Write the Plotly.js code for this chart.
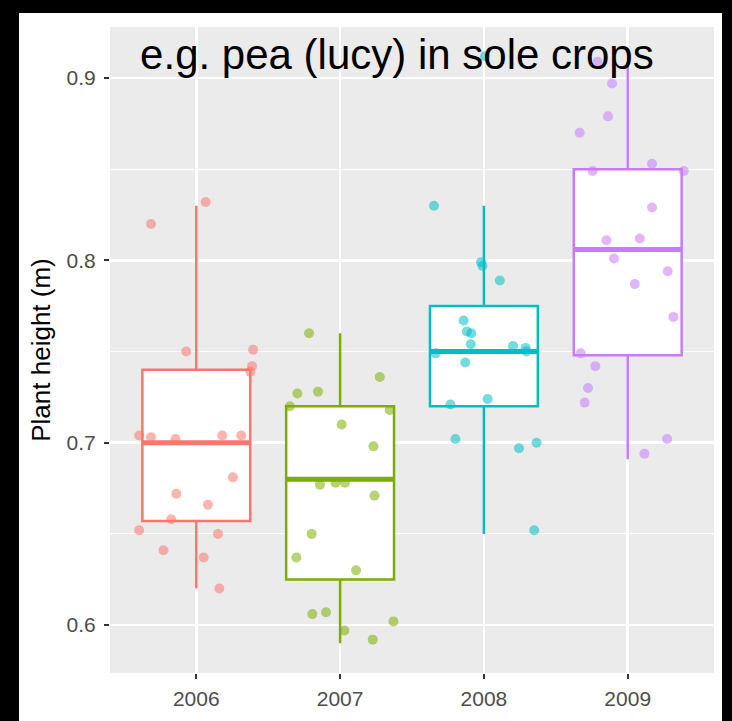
<!DOCTYPE html>
<html>
<head>
<meta charset="utf-8">
<script src="https://cdn.plot.ly/plotly-3.0.1.min.js"></script>
<style>
  html, body { margin: 0; padding: 0; background: #000; width: 732px; height: 721px; overflow: hidden; }
  #chart { position: absolute; left: 19px; top: 13px; width: 703px; height: 708px; background: #fff; }
</style>
</head>
<body>
<div id="chart"></div>
<script>
// Seasons on the x axis
const years = ['2006', '2007', '2008', '2009'];

// Plant heights (m) of individual plots per season
const height2006 = [0.832, 0.820, 0.750, 0.751, 0.742, 0.739, 0.704, 0.703, 0.702, 0.704, 0.704,
                    0.681, 0.672, 0.666, 0.658, 0.652, 0.650, 0.641, 0.637, 0.620];
const height2007 = [0.760, 0.736, 0.727, 0.728, 0.720, 0.718, 0.710, 0.698, 0.677, 0.678, 0.678,
                    0.671, 0.650, 0.637, 0.630, 0.606, 0.607, 0.602, 0.597, 0.592];
const height2008 = [0.912, 0.830, 0.799, 0.797, 0.789, 0.767, 0.761, 0.760, 0.754, 0.749, 0.753,
                    0.752, 0.750, 0.744, 0.724, 0.721, 0.702, 0.697, 0.700, 0.652];
const height2009 = [0.909, 0.897, 0.879, 0.870, 0.849, 0.853, 0.849, 0.829, 0.811, 0.812, 0.801,
                    0.794, 0.787, 0.769, 0.749, 0.742, 0.730, 0.722, 0.702, 0.694];

// Horizontal jitter of each plot's point (fraction of a category)
const jitter2006 = [0.065, -0.315, -0.070, 0.395, 0.388, 0.376, -0.397, -0.315, -0.144, 0.181, 0.313,
                    0.255, -0.139, 0.081, -0.174, -0.397, 0.151, -0.228, 0.051, 0.160];
const jitter2007 = [-0.216, 0.276, -0.297, -0.154, -0.349, 0.345, 0.011, 0.232, -0.140, -0.031, 0.034,
                    0.239, -0.198, -0.304, 0.111, -0.193, -0.098, 0.371, 0.030, 0.227];
const jitter2008 = [0.008, -0.347, -0.020, -0.010, 0.111, -0.141, -0.118, -0.088, -0.091, -0.336, 0.203,
                    0.290, 0.295, -0.130, 0.026, -0.233, -0.198, 0.244, 0.366, 0.350];
const jitter2009 = [-0.209, -0.109, -0.137, -0.334, -0.244, 0.169, 0.390, 0.169, -0.148, 0.084, -0.095,
                    0.278, 0.049, 0.318, -0.327, -0.225, -0.276, -0.299, 0.274, 0.116];

// Box summaries per season
const q1Vals     = [0.657, 0.625, 0.720, 0.748];
const medianVals = [0.700, 0.680, 0.750, 0.806];
const q3Vals     = [0.740, 0.720, 0.775, 0.850];
const lowVals    = [0.620, 0.590, 0.650, 0.691];
const highVals   = [0.830, 0.760, 0.830, 0.909];

const heights = [height2006, height2007, height2008, height2009];
const jitters = [jitter2006, jitter2007, jitter2008, jitter2009];
const colors = ['#F8766D', '#7CAE00', '#00BFC4', '#C77CFF'];
const BOX_W = 0.75;
const FONT = 'Liberation Sans, Arial, Helvetica, sans-serif';

const traces = [];

years.forEach((yr, i) => {
  traces.push({
    type: 'box',
    x: [i],
    q1: [q1Vals[i]], median: [medianVals[i]], q3: [q3Vals[i]],
    lowerfence: [lowVals[i]], upperfence: [highVals[i]],
    width: BOX_W,
    fillcolor: '#FFFFFF',
    line: { color: colors[i], width: 2.5 },
    whiskerwidth: 0,
    boxpoints: false,
    hoverinfo: 'skip',
    showlegend: false
  });
});

// Thicker median bars, as in a ggplot boxplot
years.forEach((yr, i) => {
  traces.push({
    type: 'scatter', mode: 'lines',
    x: [i - BOX_W / 2, i + BOX_W / 2],
    y: [medianVals[i], medianVals[i]],
    line: { color: colors[i], width: 5 },
    hoverinfo: 'skip', showlegend: false
  });
});

// Jittered plot observations
years.forEach((yr, i) => {
  traces.push({
    type: 'scatter', mode: 'markers',
    x: jitters[i].map(j => i + j),
    y: heights[i],
    marker: { color: colors[i], size: 10, opacity: 0.55, line: { width: 0 } },
    name: yr, showlegend: false
  });
});

const layout = {
  width: 703, height: 708,
  margin: { l: 91, r: 8, t: 14, b: 48, pad: 0 },
  paper_bgcolor: '#FFFFFF',
  plot_bgcolor: '#EBEBEB',
  showlegend: false,
  font: { family: FONT, color: '#4D4D4D' },
  title: {
    text: 'e.g. pea (lucy) in sole crops',
    font: { family: FONT, size: 42, color: '#000000' },
    xref: 'paper', x: 0.475, xanchor: 'center',
    yref: 'paper', y: 0.958, yanchor: 'middle'
  },
  xaxis: {
    range: [-0.6, 3.6],
    tickmode: 'array', tickvals: [0, 1, 2, 3], ticktext: years,
    showgrid: true, gridcolor: '#FFFFFF', gridwidth: 2.5,
    zeroline: false, showline: false,
    ticks: 'outside', ticklen: 5, tickwidth: 2, tickcolor: '#333333',
    tickfont: { family: FONT, size: 21, color: '#4D4D4D' },
    ticklabelstandoff: 2
  },
  yaxis: {
    range: [0.5737, 0.928],
    tickmode: 'array', tickvals: [0.6, 0.7, 0.8, 0.9], ticktext: ['0.6', '0.7', '0.8', '0.9'],
    showgrid: true, gridcolor: '#FFFFFF', gridwidth: 2.5,
    minor: { tickmode: 'array', tickvals: [0.65, 0.75, 0.85], showgrid: true, gridcolor: '#FFFFFF', gridwidth: 1.2, ticks: '' },
    zeroline: false, showline: false,
    ticks: 'outside', ticklen: 5, tickwidth: 2, tickcolor: '#333333',
    tickfont: { family: FONT, size: 21, color: '#4D4D4D' },
    ticklabelstandoff: 4,
    title: { text: 'Plant height (m)', font: { family: FONT, size: 26, color: '#000000' }, standoff: 8 }
  }
};

Plotly.newPlot('chart', traces, layout, { staticPlot: true, displayModeBar: false });
</script>
</body>
</html>
